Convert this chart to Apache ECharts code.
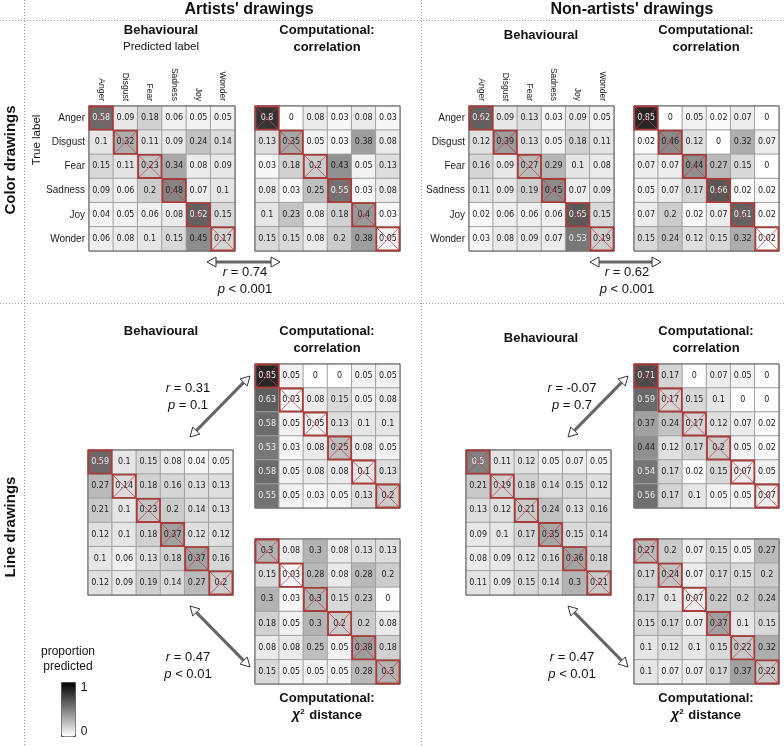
<!DOCTYPE html>
<html><head><meta charset="utf-8">
<script src="https://cdn.jsdelivr.net/npm/echarts@6/dist/echarts.min.js"></script>
<style>html,body{margin:0;padding:0;background:#fff}#c{width:784px;height:746px}</style>
</head><body><div id="c"></div>
<script>
const CATS = ['Anger','Disgust','Fear','Sadness','Joy','Wonder'];

const artColorBehav = [
 [0.58,0.09,0.18,0.06,0.05,0.05],
 [0.1,0.32,0.11,0.09,0.24,0.14],
 [0.15,0.11,0.23,0.34,0.08,0.09],
 [0.09,0.06,0.2,0.48,0.07,0.1],
 [0.04,0.05,0.06,0.08,0.62,0.15],
 [0.06,0.08,0.1,0.15,0.45,0.17]];
const artColorCorr = [
 [0.8,0,0.08,0.03,0.08,0.03],
 [0.13,0.35,0.05,0.03,0.38,0.08],
 [0.03,0.18,0.2,0.43,0.05,0.13],
 [0.08,0.03,0.25,0.55,0.03,0.08],
 [0.1,0.23,0.08,0.18,0.4,0.03],
 [0.15,0.15,0.08,0.2,0.38,0.05]];
const nonColorBehav = [
 [0.62,0.09,0.13,0.03,0.09,0.05],
 [0.12,0.39,0.13,0.05,0.18,0.11],
 [0.16,0.09,0.27,0.29,0.1,0.08],
 [0.11,0.09,0.19,0.45,0.07,0.09],
 [0.02,0.06,0.06,0.06,0.65,0.15],
 [0.03,0.08,0.09,0.07,0.53,0.19]];
const nonColorCorr = [
 [0.85,0,0.05,0.02,0.07,0],
 [0.02,0.46,0.12,0,0.32,0.07],
 [0.07,0.07,0.44,0.27,0.15,0],
 [0.05,0.07,0.17,0.66,0.02,0.02],
 [0.07,0.2,0.02,0.07,0.61,0.02],
 [0.15,0.24,0.12,0.15,0.32,0.02]];
const artLineBehav = [
 [0.59,0.1,0.15,0.08,0.04,0.05],
 [0.27,0.14,0.18,0.16,0.13,0.13],
 [0.21,0.1,0.23,0.2,0.14,0.13],
 [0.12,0.1,0.18,0.37,0.12,0.12],
 [0.1,0.06,0.13,0.18,0.37,0.16],
 [0.12,0.09,0.19,0.14,0.27,0.2]];
const artLineCorr = [
 [0.85,0.05,0,0,0.05,0.05],
 [0.63,0.03,0.08,0.15,0.05,0.08],
 [0.58,0.05,0.05,0.13,0.1,0.1],
 [0.53,0.03,0.08,0.25,0.08,0.05],
 [0.58,0.05,0.08,0.08,0.1,0.13],
 [0.55,0.05,0.03,0.05,0.13,0.2]];
const artLineChi = [
 [0.3,0.08,0.3,0.08,0.13,0.13],
 [0.15,0.03,0.28,0.08,0.28,0.2],
 [0.3,0.03,0.3,0.15,0.23,0],
 [0.18,0.05,0.3,0.2,0.2,0.08],
 [0.08,0.08,0.25,0.05,0.38,0.18],
 [0.15,0.05,0.05,0.05,0.28,0.3]];
const nonLineBehav = [
 [0.5,0.11,0.12,0.05,0.07,0.05],
 [0.21,0.19,0.18,0.14,0.15,0.12],
 [0.13,0.12,0.21,0.24,0.13,0.16],
 [0.09,0.1,0.17,0.35,0.15,0.14],
 [0.08,0.09,0.12,0.16,0.36,0.18],
 [0.11,0.09,0.15,0.14,0.3,0.21]];
const nonLineCorr = [
 [0.71,0.17,0,0.07,0.05,0],
 [0.59,0.17,0.15,0.1,0,0],
 [0.37,0.24,0.17,0.12,0.07,0.02],
 [0.44,0.12,0.17,0.2,0.05,0.02],
 [0.54,0.17,0.02,0.15,0.07,0.05],
 [0.56,0.17,0.1,0.05,0.05,0.07]];
const nonLineChi = [
 [0.27,0.2,0.07,0.15,0.05,0.27],
 [0.17,0.24,0.07,0.17,0.15,0.2],
 [0.17,0.1,0.07,0.22,0.2,0.24],
 [0.15,0.17,0.07,0.37,0.1,0.15],
 [0.1,0.12,0.1,0.15,0.22,0.32],
 [0.1,0.07,0.07,0.17,0.37,0.22]];

const STATS = [
 {r:'0.74', p:'< 0.001'}, {r:'0.62', p:'< 0.001'},
 {r:'0.31', p:'= 0.1'}, {r:'0.47', p:'< 0.01'},
 {r:'-0.07', p:'= 0.7'}, {r:'0.47', p:'< 0.01'}];

const PANELS = [
 {m:artColorBehav, box:[89,106,146,145], labels:true},
 {m:artColorCorr,  box:[255,106,145,145]},
 {m:nonColorBehav, box:[469,106,145,145], labels:true},
 {m:nonColorCorr,  box:[634,106,145,145]},
 {m:artLineBehav,  box:[88,450,145,145]},
 {m:artLineCorr,   box:[255,364,145,144]},
 {m:artLineChi,    box:[255,539,145,145]},
 {m:nonLineBehav,  box:[466,450,145,145]},
 {m:nonLineCorr,   box:[634,364,145,144]},
 {m:nonLineChi,    box:[634,539,145,145]}];

const grids=[], xAxes=[], yAxes=[], series=[], heatIdx=[];
PANELS.forEach((p,i)=>{
  grids.push({left:p.box[0], top:p.box[1], width:p.box[2], height:p.box[3], show:true, borderColor:'#6a6a6a', borderWidth:1, z:3, backgroundColor:'transparent'});
  xAxes.push({type:'category', gridIndex:i, data:CATS, position:'top',
    axisLine:{show:false}, axisTick:{show:false}, splitLine:{show:false},
    axisLabel:{show:!!p.labels, rotate:90, fontSize:8.5, color:'#222', fontFamily:'Liberation Sans', margin:5}});
  yAxes.push({type:'category', gridIndex:i, data:CATS, inverse:true,
    axisLine:{show:false}, axisTick:{show:false}, splitLine:{show:false},
    axisLabel:{show:!!p.labels, fontSize:10, color:'#222', fontFamily:'Liberation Sans', margin:4}});
  const data=[];
  p.m.forEach((row,r)=>row.forEach((v,c)=>data.push([c,r,v])));
  heatIdx.push(series.length);
  series.push({type:'heatmap', xAxisIndex:i, yAxisIndex:i, data:data,
    itemStyle:{borderColor:'#a0a0a0', borderWidth:1},
    emphasis:{disabled:true},
    label:{show:true, formatter:(q)=>{const v=q.value[2]; return (v>=0.5?'{w|':'{d|')+String(v)+'}';},
      rich:{d:{color:'#222', fontSize:8, fontFamily:'DejaVu Sans'}, w:{color:'#eee', fontSize:8, fontFamily:'DejaVu Sans'}}}});
  series.push({type:'custom', xAxisIndex:i, yAxisIndex:i, z:5, silent:true,
    data:CATS.map((_,k)=>[k,k]),
    renderItem:(params,api)=>{
      const pt=api.coord([api.value(0),api.value(1)]);
      const s=api.size([1,1]);
      const x0=pt[0]-s[0]/2, y0=pt[1]-s[1]/2;
      const ls={stroke:'rgba(185,70,70,0.75)', lineWidth:1};
      return {type:'group', children:[
        {type:'line', shape:{x1:x0,y1:y0,x2:x0+s[0],y2:y0+s[1]}, style:ls},
        {type:'line', shape:{x1:x0+s[0],y1:y0,x2:x0,y2:y0+s[1]}, style:ls},
        {type:'rect', shape:{x:x0+0.5,y:y0+0.5,width:s[0]-1,height:s[1]-1}, style:{fill:'none', stroke:'#a83c3c', lineWidth:1.8}}]};
    }});
});

const G=[];
const F='Liberation Sans';
function txt(x,y,t,size,bold,extra){
  G.push(Object.assign({type:'text', x:x, y:y, style:{text:t, fontSize:size, fontWeight:bold?'bold':'normal', fontFamily:F, fill:'#111', textAlign:'center', textVerticalAlign:'middle'}, z:10}, extra||{}));
}
function rtxt(x,y,t,size,bold){
  G.push({type:'text', x:x, y:y, rotation:Math.PI/2, style:{text:t, fontSize:size, fontWeight:bold?'bold':'normal', fontFamily:F, fill:'#111', textAlign:'center', textVerticalAlign:'middle'}, z:10});
}
function stat(x,y,s){
  G.push({type:'text', x:x, y:y, style:{text:'{i|r} = '+s.r, rich:{i:{fontStyle:'italic', fontSize:13, fontFamily:F, fill:'#111'}}, fontSize:13, fontFamily:F, fill:'#111', textAlign:'center', textVerticalAlign:'middle'}, z:10});
  G.push({type:'text', x:x, y:y+17, style:{text:'{i|p} '+s.p, rich:{i:{fontStyle:'italic', fontSize:13, fontFamily:F, fill:'#111'}}, fontSize:13, fontFamily:F, fill:'#111', textAlign:'center', textVerticalAlign:'middle'}, z:10});
}
function chiLabel(x,y){
  G.push({type:'text', x:x, y:y, style:{text:'{c|χ}{s|2} distance', rich:{c:{fontStyle:'italic', fontWeight:'bold', fontSize:14, fontFamily:F}, s:{fontSize:8, fontWeight:'bold', fontFamily:F, verticalAlign:'top', padding:[0,1,6,0]}}, fontSize:13, fontWeight:'bold', fontFamily:F, fill:'#111', textAlign:'center', textVerticalAlign:'middle'}, z:10});
}
function arrow(x1,y1,x2,y2){
  const dx=x2-x1, dy=y2-y1, L=Math.hypot(dx,dy), ux=dx/L, uy=dy/L, nx=-uy, ny=ux, hl=9, hw=5;
  const b2=[x2-ux*hl,y2-uy*hl], b1=[x1+ux*hl,y1+uy*hl];
  G.push({type:'line', shape:{x1:b1[0],y1:b1[1],x2:b2[0],y2:b2[1]}, style:{stroke:'#666', lineWidth:3}, z:10});
  G.push({type:'polygon', shape:{points:[[x2,y2],[b2[0]+nx*hw,b2[1]+ny*hw],[b2[0]-nx*hw,b2[1]-ny*hw]]}, style:{fill:'#fff', stroke:'#333', lineWidth:1}, z:11});
  G.push({type:'polygon', shape:{points:[[x1,y1],[b1[0]+nx*hw,b1[1]+ny*hw],[b1[0]-nx*hw,b1[1]-ny*hw]]}, style:{fill:'#fff', stroke:'#333', lineWidth:1}, z:11});
}
function dots(x1,y1,x2,y2){
  G.push({type:'line', shape:{x1:x1,y1:y1,x2:x2,y2:y2}, style:{stroke:'#9a9a9a', lineWidth:1, lineDash:[1,2]}, z:1});
}
dots(0,20.5,784,20.5); dots(0,303.5,784,303.5); dots(24.5,0,24.5,746); dots(421.5,0,421.5,746);

txt(249,10,"Artists' drawings",16,true);
txt(632,10,"Non-artists' drawings",16,true);
txt(161,30,'Behavioural',13,true);
txt(161,47,'Predicted label',11.5,false);
txt(327,30,'Computational:',13,true); txt(327,47,'correlation',13,true);
txt(541,35,'Behavioural',13,true);
txt(706,30,'Computational:',13,true); txt(706,47,'correlation',13,true);
rtxt(37,140,'True label',11.5,false);
rtxt(11,160,'Color drawings',15,true);
rtxt(11,527,'Line drawings',15,true);

txt(161,331,'Behavioural',13,true);
txt(327,331,'Computational:',13,true); txt(327,348,'correlation',13,true);
txt(541,338,'Behavioural',13,true);
txt(706,331,'Computational:',13,true); txt(706,348,'correlation',13,true);
txt(327,698,'Computational:',13,true); chiLabel(327,715);
txt(706,698,'Computational:',13,true); chiLabel(706,715);

stat(245,272,STATS[0]); arrow(207,262,280,262);
stat(627,272,STATS[1]); arrow(590,262,661,262);
stat(188,388,STATS[2]); arrow(190,437,250,376);
stat(188,657,STATS[3]); arrow(190,606,250,667);
stat(572,388,STATS[4]); arrow(568,437,628,376);
stat(572,657,STATS[5]); arrow(568,606,628,667);

txt(68,652,'proportion',12,false); txt(68,667,'predicted',12,false);
txt(84,688,'1',12,false); txt(84,732,'0',12,false);

const chart = echarts.init(document.getElementById('c'));
chart.setOption({
  animation:false,
  grid:grids, xAxis:xAxes, yAxis:yAxes, series:series,
  visualMap:{type:'continuous', min:0, max:1, seriesIndex:heatIdx, calculable:false, show:true,
    left:61, top:682, itemWidth:14, itemHeight:54, padding:0, text:null, showLabel:false,
    borderColor:'#444', borderWidth:1,
    inRange:{color:['#ffffff','#000000']}},
  graphic:G
});
</script></body></html>
